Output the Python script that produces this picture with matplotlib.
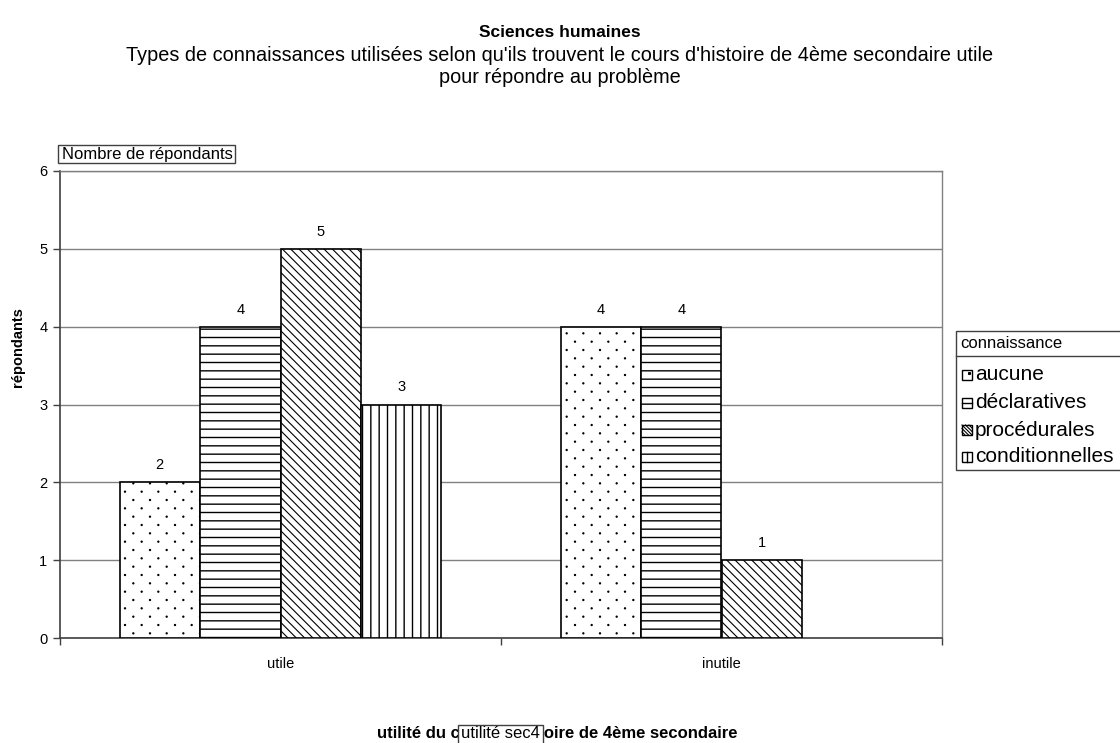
import matplotlib
matplotlib.use("Agg")
import matplotlib.pyplot as plt
from matplotlib import hatch as mhatch
from matplotlib.path import Path
from matplotlib.patches import Rectangle
from matplotlib.lines import Line2D
import numpy as np

plt.rcParams['font.family'] = ['Liberation Sans', 'DejaVu Sans']
plt.rcParams['hatch.color'] = 'black'


class DotLattice(mhatch.HatchPatternBase):
    """Sparse staggered dots: wide spacing along a row, tighter row spacing."""
    ncol, nrow, radius = 6, 12, 0.006

    def __init__(self, hatch, density):
        self.circle = Path.unit_circle()
        self.nv = len(self.circle.vertices)
        if '.' in hatch:
            count = sum(self.ncol + 1 if r % 2 == 0 else self.ncol for r in range(self.nrow + 1))
        else:
            count = 0
        self.num_vertices = count * self.nv

    def set_vertices_and_codes(self, vertices, codes):
        shape = self.circle.vertices * self.radius
        dc = 1.0 / self.ncol
        cur = 0
        for r in range(self.nrow + 1):
            if r % 2 == 0:
                cols = np.linspace(0, 1, self.ncol + 1)
            else:
                cols = np.linspace(dc / 2, 1 - dc / 2, self.ncol)
            yy = r / self.nrow
            for xx in cols:
                vertices[cur:cur + self.nv] = shape + (xx, yy)
                codes[cur:cur + self.nv] = self.circle.codes
                cur += self.nv


try:
    mhatch._hatch_types = [DotLattice if t is mhatch.SmallFilledCircles else t
                           for t in mhatch._hatch_types]
    dot_hatch = "."
except Exception:
    dot_hatch = ".."

# Data
categories = ["utile", "inutile"]
series_names = ["aucune", "déclaratives", "procédurales", "conditionnelles"]
values = {
    "aucune": [2, 4],
    "déclaratives": [4, 4],
    "procédurales": [5, 1],
    "conditionnelles": [3, 0],
}
yticks = [0, 1, 2, 3, 4, 5, 6]

title = "Sciences humaines"
subtitle_1 = "Types de connaissances utilisées selon qu'ils trouvent le cours d'histoire de 4ème secondaire utile"
subtitle_2 = "pour répondre au problème"
ylabel = "répondants"
xlabel = "utilité du cours d'histoire de 4ème secondaire"
legend_title = "connaissance"
field_y = "Nombre de répondants"
field_x = "utilité sec4"

hatches = {"aucune": dot_hatch, "déclaratives": "--", "procédurales": "\\\\\\\\", "conditionnelles": "||"}
hatch_lw = {"aucune": 0.8, "déclaratives": 1.0, "procédurales": 0.8, "conditionnelles": 1.0}

W, H = 1120, 743
fig = plt.figure(figsize=(W / 100, H / 100), dpi=100)
fig.patch.set_facecolor("white")


def fx(px):
    return np.asarray(px) / W


def fy(py):
    return 1 - np.asarray(py) / H


# plot area in pixel coordinates
x0, x1, ytop, ybot = 60, 942, 171, 638
ax = fig.add_axes([fx(x0), fy(ybot), (x1 - x0) / W, (ybot - ytop) / H])

n = len(series_names)
bar_w = 0.73 / n
xpos = np.arange(len(categories))
for i, name in enumerate(series_names):
    offs = (i - (n - 1) / 2) * bar_w
    vals = values[name]
    with plt.rc_context({"hatch.linewidth": hatch_lw[name]}):
        bars = ax.bar(xpos + offs, vals, width=bar_w, facecolor="white", edgecolor="black",
                      linewidth=1.2, hatch=hatches[name], zorder=3)
        for b in bars:
            if hasattr(b, "set_hatch_linewidth"):
                b.set_hatch_linewidth(hatch_lw[name])
    for b, v in zip(bars, vals):
        if v > 0:
            ax.text(b.get_x() + b.get_width() / 2, v + 0.13, str(v), ha="center", va="bottom",
                    fontsize=10.5, zorder=4)
        else:
            b.set_linewidth(0)

ax.set_xlim(-0.5, len(categories) - 0.5)
ax.set_ylim(0, 6)
ax.set_yticks(yticks)
ax.set_yticklabels([str(t) for t in yticks], fontsize=10.5)
ax.yaxis.grid(True, color="#808080", linewidth=1.0, zorder=0)
ax.set_axisbelow(True)
ax.set_xticks(xpos)
ax.set_xticklabels(categories, fontsize=10.5)
ax.tick_params(axis="x", which="major", length=0, pad=14)
ax.set_xticks([-0.5, 0.5, 1.5], minor=True)
ax.tick_params(axis="x", which="minor", length=5, width=1, color="#404040")
ax.tick_params(axis="y", length=5, width=1, color="#404040", pad=4)
for s in ["top", "right"]:
    ax.spines[s].set_color("#808080")
    ax.spines[s].set_linewidth(1.0)
for s in ["left", "bottom"]:
    ax.spines[s].set_color("#404040")
    ax.spines[s].set_linewidth(1.2)

# chart title and subtitle
fig.text(fx(560), fy(37), title, ha="center", va="baseline", fontsize=12.5, fontweight="bold")
fig.text(fx(560), fy(61), subtitle_1, ha="center", va="baseline", fontsize=14.3)
fig.text(fx(560), fy(83), subtitle_2, ha="center", va="baseline", fontsize=14.3)

# axis titles
fig.text(fx(18), fy(347), ylabel, rotation=90, ha="center", va="center", fontsize=10.5,
         fontweight="bold")
fig.text(fx(377), fy(738), xlabel, ha="left", va="baseline", fontsize=12, fontweight="bold",
         zorder=3)

# field buttons (drawn above the axis title they sit on)
fig.add_artist(Rectangle((fx(58), fy(163)), 177 / W, 18 / H, transform=fig.transFigure,
                         facecolor="white", edgecolor="#404040", linewidth=1.0, zorder=4))
fig.text(fx(62), fy(154), field_y, ha="left", va="center", fontsize=12, zorder=5)
fig.add_artist(Rectangle((fx(458), fy(748)), 85 / W, 23 / H, transform=fig.transFigure,
                         facecolor="white", edgecolor="#404040", linewidth=1.0, zorder=4))
fig.text(fx(461), fy(738), field_x, ha="left", va="baseline", fontsize=12, zorder=5)

# legend panel
lx, ltop, lsep, lbot = 956, 331, 356, 470
fig.add_artist(Rectangle((fx(lx), fy(lbot)), (W + 10 - lx) / W, (lbot - ltop) / H,
                         transform=fig.transFigure, facecolor="white", edgecolor="#404040",
                         linewidth=1.0))
fig.add_artist(Line2D([fx(lx), 1.0], [fy(lsep), fy(lsep)], transform=fig.transFigure,
                      color="#404040", linewidth=1.0))
fig.text(fx(960), fy(344), legend_title, ha="left", va="center", fontsize=12)

item_y = [375, 403, 430, 457]
mk = 10  # marker square size in pixels
for name, yy in zip(series_names, item_y):
    sx, sy = 962, yy - mk / 2
    fig.add_artist(Rectangle((fx(sx), fy(sy + mk)), mk / W, mk / H, transform=fig.transFigure,
                             facecolor="white", edgecolor="black", linewidth=1.0))
    if name == "aucune":
        fig.add_artist(Line2D([fx(sx + 7)], [fy(sy + 3)], transform=fig.transFigure,
                              marker="s", markersize=1.2, color="black", linestyle="none"))
    elif name == "déclaratives":
        fig.add_artist(Line2D([fx(sx), fx(sx + mk)], [fy(yy), fy(yy)], transform=fig.transFigure,
                              color="black", linewidth=1.0))
    elif name == "procédurales":
        for k in range(-2, 3):
            a = k * 3.5
            xs = np.clip([sx + a, sx + mk + a], sx, sx + mk)
            ys = sy + (xs - sx - a)
            fig.add_artist(Line2D(fx(xs), fy(ys), transform=fig.transFigure,
                                  color="black", linewidth=0.8))
    else:
        fig.add_artist(Line2D([fx(sx + mk / 2), fx(sx + mk / 2)], [fy(sy), fy(sy + mk)],
                              transform=fig.transFigure, color="black", linewidth=1.0))
    fig.text(fx(975), fy(yy), name, ha="left", va="center", fontsize=15)

fig.savefig("out.png", dpi=100)
